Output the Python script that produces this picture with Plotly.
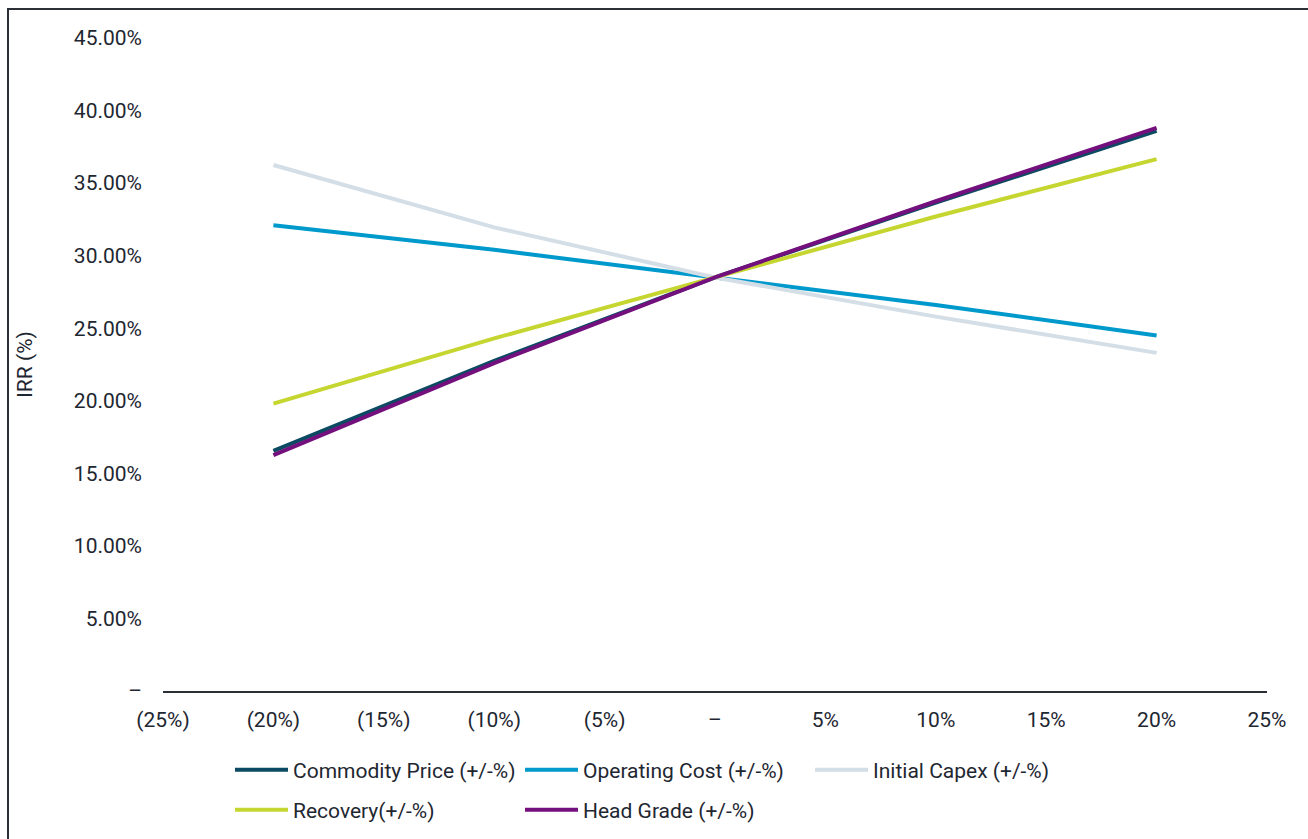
import plotly.graph_objects as go

sensitivity = [-20, -10, 0, 10, 20]
commodity_price = [16.55, 22.75, 28.5, 33.65, 38.6]
operating_cost = [32.1, 30.4, 28.5, 26.6, 24.5]
initial_capex = [36.25, 31.95, 28.5, 25.8, 23.3]
recovery = [19.8, 24.3, 28.5, 32.7, 36.65]
head_grade = [16.25, 22.6, 28.5, 33.75, 38.8]

series_names = ["Commodity Price (+/-%)", "Operating Cost (+/-%)", "Initial Capex (+/-%)",
                "Recovery(+/-%)", "Head Grade (+/-%)"]
series_colors = ["#0c4a63", "#0099cc", "#d3dee7", "#c6d631", "#74107d"]
legend_rows = ["legend", "legend", "legend", "legend2", "legend2"]

x_tickvals = [-25, -20, -15, -10, -5, 0, 5, 10, 15, 20, 25]
x_ticktext = ["(25%)", "(20%)", "(15%)", "(10%)", "(5%)", "–", "5%", "10%", "15%", "20%", "25%"]
y_tickvals = [0, 5, 10, 15, 20, 25, 30, 35, 40, 45]
y_ticktext = ["–", "5.00%", "10.00%", "15.00%", "20.00%", "25.00%", "30.00%", "35.00%", "40.00%", "45.00%"]

FONT = "Roboto"
FS = 21
TXT = "#1e2731"

fig = go.Figure()
for name, vals, col, lg in zip(series_names,
                               [commodity_price, operating_cost, initial_capex, recovery, head_grade],
                               series_colors, legend_rows):
    fig.add_trace(go.Scatter(x=sensitivity, y=vals, mode="lines", name=name,
                             line=dict(color=col, width=4), legend=lg))

W, H = 1308, 839
L, R, T, B = 163, 41, 38, 148
pw, ph = W - L - R, H - T - B


def legend_cfg(center_y):
    return dict(orientation="h", x=(230 - L) / pw, xanchor="left",
                y=((H - B) - center_y) / ph, yanchor="middle",
                entrywidth=222, entrywidthmode="pixels",
                font=dict(family=FONT, size=FS, color=TXT),
                itemwidth=53, bgcolor="rgba(0,0,0,0)")


fig.update_layout(
    width=W, height=H,
    margin=dict(l=L, r=R, t=T, b=B, autoexpand=False),
    paper_bgcolor="white", plot_bgcolor="white",
    font=dict(family=FONT, size=FS, color=TXT),
    showlegend=True,
    legend=legend_cfg(770),
    legend2=legend_cfg(810),
    xaxis=dict(range=[-25, 25], tickvals=x_tickvals, ticktext=x_ticktext,
               showgrid=False, zeroline=False, showline=True, linecolor="#2b3036",
               linewidth=2, ticks="", ticklabelstandoff=9, automargin=False),
    yaxis=dict(range=[0, 45], tickvals=y_tickvals, ticktext=y_ticktext,
               showgrid=False, zeroline=False, showline=False, ticks="",
               ticklabelstandoff=20, automargin=False,
               title=dict(text="IRR (%)", standoff=35, font=dict(size=FS))),
    shapes=[dict(type="rect", xref="paper", yref="paper",
                 x0=(8 - L) / pw, x1=(W + 20 - L) / pw,
                 y0=-(H + 20 - (H - B)) / ph, y1=((H - B) - 9) / ph,
                 line=dict(color="#2b3036", width=2), fillcolor="rgba(0,0,0,0)",
                 layer="below")],
)

fig.write_html("out.html")
